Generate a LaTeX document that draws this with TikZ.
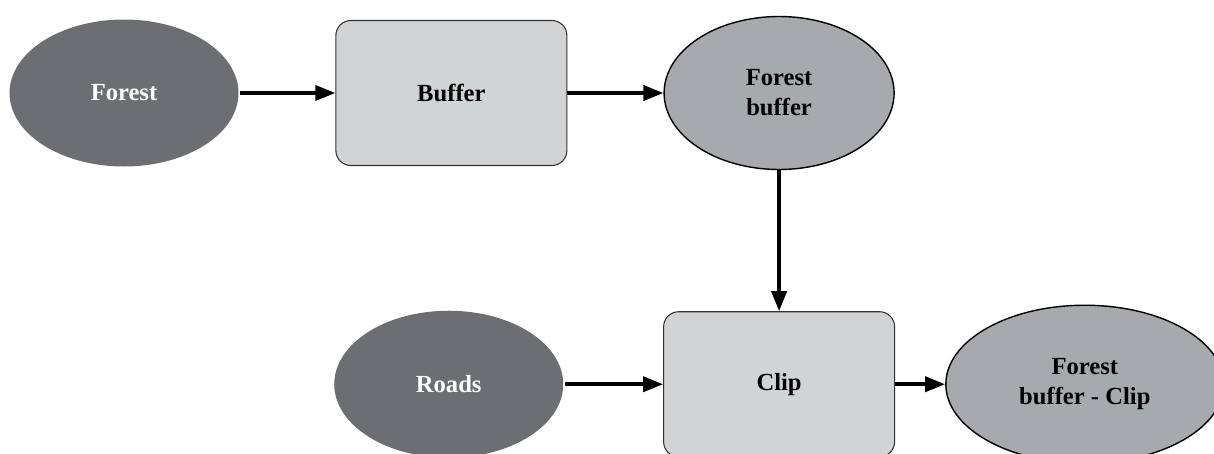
\documentclass[tikz,border=0pt]{standalone}
\usepackage{fontspec}
\setmainfont{Liberation Serif}
\usepackage{xcolor}
\usetikzlibrary{positioning}
\usetikzlibrary{shapes.geometric}
\usetikzlibrary{arrows.meta}
\definecolor{datadark}{HTML}{6D6E71}
\definecolor{datamid}{HTML}{A7A9AC}
\definecolor{toolgray}{HTML}{D1D3D4}

\begin{document}
\begin{tikzpicture}[-{Triangle[length=4mm,width=3mm]}, line width=2.1pt, node distance=1.9cm, font=\fontsize{14}{17}\selectfont\bfseries]
    \tikzstyle{input}=[ellipse,fill=datadark,text=white,minimum width=4.58cm,minimum height=2.94cm,inner sep=0pt,align=center]
    \tikzstyle{output}=[ellipse,draw=black,line width=0.8pt,fill=datamid,minimum width=4.6cm,minimum height=3.06cm,inner sep=0pt,align=center]
    \tikzstyle{tool}=[rectangle,rounded corners=0.3cm,draw=black!80,line width=0.6pt,fill=toolgray,minimum width=4.62cm,minimum height=2.9cm,inner sep=0pt]

    \useasboundingbox (0,0) rectangle (24.28,-9.06);

	\node[input] (forest) at (2.48,-1.86) {Forest};
	\node[tool, right=1.9cm of forest] (buffer) {Buffer};
	\node[output, right=1.92cm of buffer] (forestbuffer) {Forest\\buffer};
	\node[tool, below=2.82cm of forestbuffer] (clip) {Clip};
	\node[input, left=1.96cm of clip] (roads) {Roads};
	\node[output, right=1cm of clip, minimum width=5.56cm, minimum height=3.16cm] (result) {Forest\\buffer - Clip};

    \path (forest) edge (buffer);
    \path (buffer) edge (forestbuffer);
    \path (forestbuffer) edge (clip);
    \path (roads) edge (clip);
    \path (clip) edge (result);
\end{tikzpicture}
\end{document}
